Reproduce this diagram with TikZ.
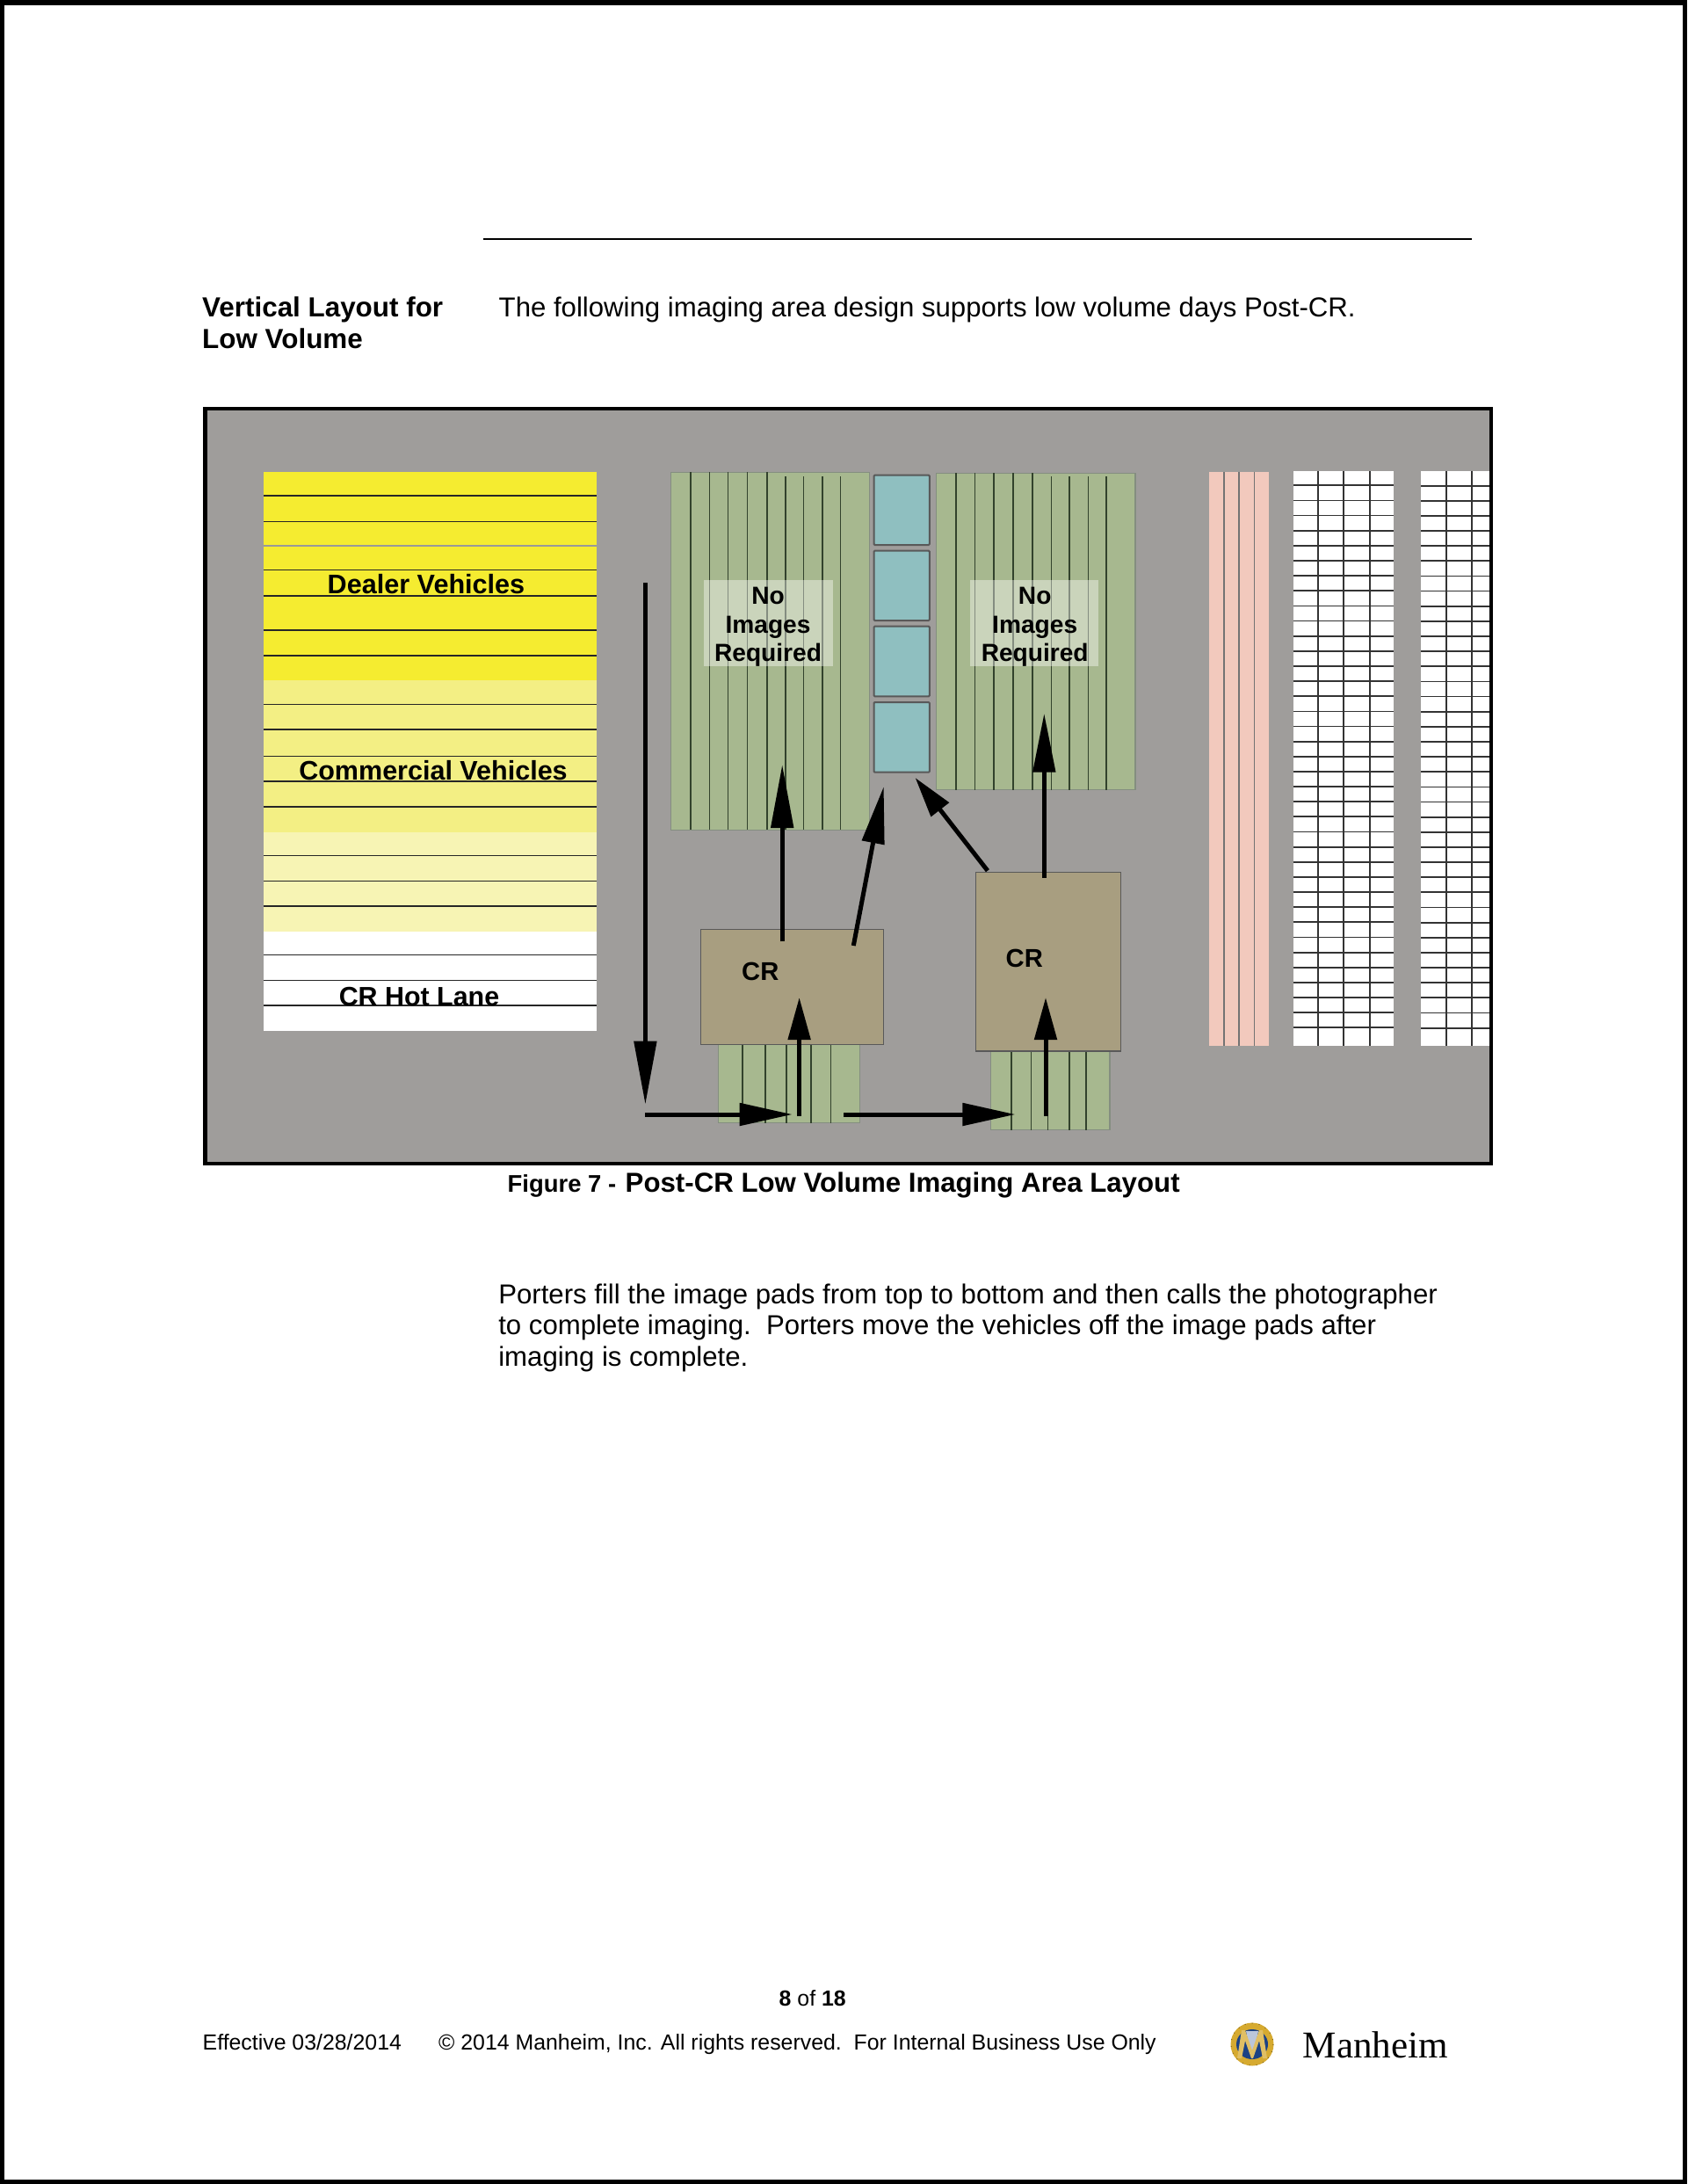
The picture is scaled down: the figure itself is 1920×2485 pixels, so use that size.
\documentclass[tikz,border=0pt]{standalone}
\usepackage{fontspec}
\setmainfont{Liberation Sans}
\newfontfamily\logofont{Liberation Serif}
\usetikzlibrary{arrows.meta,calc}
\definecolor{floorgrey}{RGB}{159,157,155}
\definecolor{dealercolor}{RGB}{245,236,48}
\definecolor{commcolor}{RGB}{243,239,132}
\definecolor{palecolor}{RGB}{247,244,180}
\definecolor{padgreen}{RGB}{167,184,143}
\definecolor{padline}{RGB}{50,66,44}
\definecolor{imagepad}{RGB}{143,191,192}
\definecolor{crtan}{RGB}{168,158,128}
\definecolor{pinkrow}{RGB}{242,201,189}
\definecolor{logogold}{RGB}{214,170,48}
\definecolor{logoblue}{RGB}{28,66,132}

\begin{document}
\begin{tikzpicture}[x=0.01cm, y=-0.01cm,
  bodytxt/.style={inner sep=0pt, anchor=base west, align=left,
                  font=\fontsize{8.86}{10.25}\selectfont},
  foottxt/.style={inner sep=0pt, anchor=base west,
                  font=\fontsize{7.07}{9}\selectfont},
  lanetxt/.style={inner sep=0pt, anchor=base, font=\fontsize{#1}{10}\selectfont\bfseries},
  lane/.style={line width=0.015cm, draw=black!85},
  padbox/.style={fill=padgreen, draw=padline!60, line width=0.012cm},
  padrule/.style={draw=padline, line width=0.014cm},
  crbox/.style={fill=crtan, draw=black!65, line width=0.015cm},
  imgbox/.style={fill=imagepad, draw=black!65, line width=0.02cm, rounded corners=0.01cm},
  gridrule/.style={draw=black!80, line width=0.018cm},
  flow/.style={line width=0.05cm, -{Triangle[length=#1, width=0.25cm]}}]

  \useasboundingbox (0,0) rectangle (1920,2485);
  \fill[white] (0,0) rectangle (1920,2485);
  \draw[line width=0.055cm] (2.5,3) rectangle (1917.5,2482.5);

  % heading
  \draw[line width=0.018cm] (550,272.3) -- (1675,272.3);
  \node[bodytxt, font=\fontsize{8.93}{10.25}\selectfont\bfseries] (side1) at (229.5,360.5) {Vertical Layout for};
  \node[bodytxt, font=\fontsize{8.93}{10.25}\selectfont\bfseries] (side2) at (229.5,396.5) {Low Volume};
  \node[bodytxt] (intro) at (567,360.5) {The following imaging area design supports low volume days Post-CR.};

  % floor
  \draw[fill=floorgrey, line width=0.045cm] (233.5,465) rectangle (1697,1324);

  % staging lanes
  \fill[dealercolor] (300,537) rectangle (679,774);
  \fill[commcolor]   (300,774) rectangle (679,946.5);
  \fill[palecolor]   (300,946.5) rectangle (679,1060);
  \fill[white]       (300,1060) rectangle (679,1173);
  \foreach \y in {564,593.5,648.5,678,717,746,801.5,830,860.4,889,917.8,973.7,1002.4,1031,1086.6,1115.3,1144}
    \draw[lane] (300,\y) -- (679,\y);
  \draw[lane, draw=black!40] (300,621) -- (679,621);
  \node[lanetxt=8.7]  (dealer) at (485,675) {Dealer Vehicles};
  \node[lanetxt=8.68] (comm)   at (493,887) {Commercial Vehicles};
  \node[lanetxt=8.65] (hot)    at (477,1144) {CR Hot Lane};

  % pads beside the image pads
  \draw[padbox] (763.3,537.3) rectangle (989.8,944.3);
  \foreach \x in {785.8,807.2,828.5,850.7,872.8}
    \draw[padrule] (\x,537.3) -- (\x,944.3);
  \foreach \x in {894.1,914.7,936,956.6}
    \draw[padrule] (\x,542) -- (\x,944.3);
  \draw[padbox] (1065.4,538.3) rectangle (1292,898.7);
  \foreach \x in {1087.9,1109.6,1131,1153.1,1174.9}
    \draw[padrule] (\x,538.3) -- (\x,898.7);
  \foreach \x in {1196.2,1216.8,1238.2,1259.1}
    \draw[padrule] (\x,542) -- (\x,898.7);

  % image pads
  \draw[imgbox] (994.6,540.7) rectangle (1057.8,620);
  \draw[imgbox] (994.6,626.7) rectangle (1057.8,706);
  \draw[imgbox] (994.6,712.7) rectangle (1057.8,792.3);
  \draw[imgbox] (994.6,799) rectangle (1057.8,878.7);

  % no images labels
  \fill[white, opacity=0.4] (800.8,660) rectangle (947.5,758.3);
  \fill[white, opacity=0.4] (1104,660) rectangle (1250.4,758.3);
  \foreach \x/\n in {874/a,1177.7/b} {
    \node[lanetxt=8] (no\n)  at (\x,687) {No};
    \node[lanetxt=8] (img\n) at (\x,720) {Images};
    \node[lanetxt=8] (req\n) at (\x,752) {Required};
  }

  % feeder pads and CR boxes
  \draw[padbox] (817.4,1188.3) rectangle (978.8,1277.7);
  \foreach \x in {845.1,870.8,894.9,923,945.6}
    \draw[padrule] (\x,1188.3) -- (\x,1277.7);
  \draw[padbox] (1127.8,1196) rectangle (1263,1285.7);
  \foreach \x in {1150.8,1173.3,1192.7,1216.8,1235.8}
    \draw[padrule] (\x,1196) -- (\x,1285.7);
  \draw[crbox] (797.3,1057.7) rectangle (1005.3,1188.3);
  \draw[crbox] (1110.4,992.7) rectangle (1275.3,1196);
  \node[lanetxt=8.3] (crA) at (865.3,1115) {CR};
  \node[lanetxt=8.3] (crB) at (1165.8,1100) {CR};

  % pink and white rows
  \fill[pinkrow] (1375.7,536.7) rectangle (1443.7,1190);
  \foreach \x in {1393,1410,1427.3}
    \draw[draw=black!55, line width=0.014cm] (\x,536.7) -- (\x,1190);
  \fill[white] (1471.7,536) rectangle (1585.7,1190);
  \fill[white] (1617,536) rectangle (1695,1190);
  \foreach \x in {1500.3,1529.3,1558.7,1645.7,1674.7}
    \draw[gridrule] (\x,536) -- (\x,1190);
  \foreach \i in {0,...,36} {
    \draw[gridrule] (1471.7,552.3+17.14*\i) -- (1585.7,552.3+17.14*\i);
    \draw[gridrule] (1617,552.6+17.14*\i) -- (1695,552.6+17.14*\i);
  }

  % flow
  \coordinate (inTop)   at (734.4,663.3);
  \coordinate (inLow)   at (734.4,1256.7);
  \coordinate (runA)    at (734.4,1268);
  \coordinate (runAend) at (901.7,1268);
  \coordinate (runB)    at (960.2,1268);
  \coordinate (runBend) at (1155.5,1268);
  \coordinate (feedA)   at (909.6,1270);
  \coordinate (feedAend) at (909.6,1135);
  \coordinate (feedB)   at (1190,1270);
  \coordinate (feedBend) at (1190,1135);
  \coordinate (outA)    at (890.2,1071.3);
  \coordinate (outAend) at (890.2,870);
  \coordinate (outB)    at (971.3,1076);
  \coordinate (outBend) at (1005.7,895);
  \coordinate (outC)    at (1123.9,990.7);
  \coordinate (outCend) at (1041.6,885);
  \coordinate (outD)    at (1188.3,999);
  \coordinate (outDend) at (1188.3,811.7);
  \draw[flow=0.72cm] (inTop) -- (inLow);
  \draw[flow=0.6cm]  (runA) -- (runAend);
  \draw[flow=0.6cm]  (runB) -- (runBend);
  \draw[flow=0.48cm] (feedA) -- (feedAend);
  \draw[flow=0.48cm] (feedB) -- (feedBend);
  \draw[flow=0.72cm] (outA) -- (outAend);
  \draw[flow=0.65cm] (outB) -- (outBend);
  \draw[flow=0.46cm] (outC) -- (outCend);
  \draw[flow=0.67cm] (outD) -- (outDend);

  % caption and body
  \node[bodytxt, font=\fontsize{7.8}{10}\selectfont\bfseries] (figno) at (577,1356.5) {Figure 7 -};
  \node[bodytxt, font=\fontsize{8.88}{10}\selectfont\bfseries] (figcap) at (711,1356.5) {Post-CR Low Volume Imaging Area Layout};
  \node[bodytxt] (body1) at (566.6,1483) {Porters fill the image pads from top to bottom and then calls the photographer};
  \node[bodytxt] (body2) at (566.6,1518) {to complete imaging.\ \ Porters move the vehicles off the image pads after};
  \node[bodytxt] (body3) at (566.6,1554) {imaging is complete.};

  % footer
  \node[foottxt] (pageno) at (886,2282) {\textbf{8} of \textbf{18}};
  \node[foottxt] (eff) at (230,2332.3) {Effective 03/28/2014};
  \node[foottxt] (copy) at (498.5,2332.3) {\textcopyright{} 2014 Manheim, Inc. All rights reserved.\ \ For Internal Business Use Only};
  \node[inner sep=0pt, anchor=base west, font=\logofont\fontsize{12.25}{14}\selectfont] (brand) at (1482,2341) {Manheim};

  % logo
  \fill[logogold] (1425,2326) circle (24.5);
  \draw[logogold!60!black, line width=0.01cm, dotted] (1425,2326) circle (24);
  \fill[logoblue] (1425,2326) ellipse (18 and 17);
  \fill[logoblue!30!white] (1418,2311) -- (1432,2311) -- (1428,2330) -- (1425,2333) -- (1422,2330) -- cycle;
  \fill[logogold!75!white] (1408,2342) -- (1413,2310) -- (1417,2310) -- (1425,2333) -- (1433,2310) -- (1437,2310)
    -- (1442,2342) -- (1437,2342) -- (1433,2322) -- (1426,2342) -- (1424,2342) -- (1417,2322) -- (1413,2342) -- cycle;
\end{tikzpicture}
\end{document}
